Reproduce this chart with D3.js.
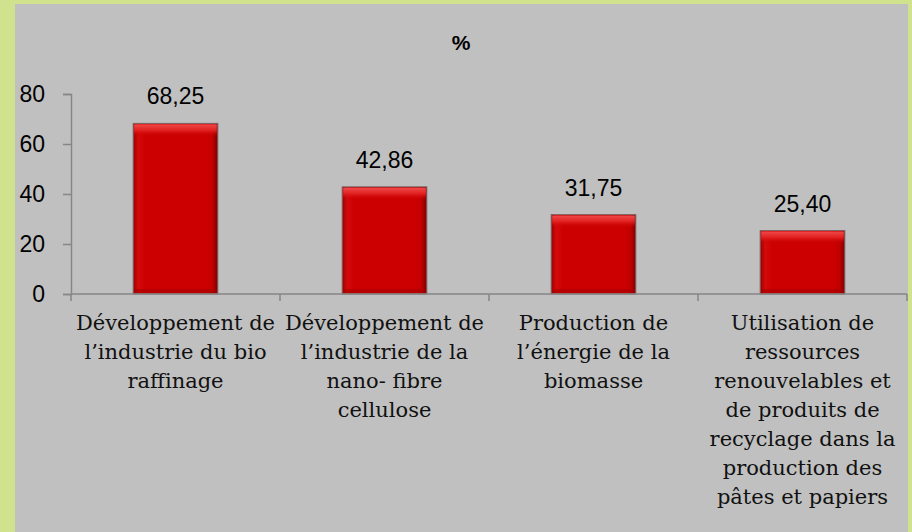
<!DOCTYPE html>
<html><head><meta charset="utf-8">
<script src="https://cdn.jsdelivr.net/npm/d3@7"></script>
<style>html,body{margin:0;padding:0;background:#d1e28f;}svg{display:block;}</style>
</head><body>
<svg id="chart" width="912" height="532"></svg>
<script>
const categories = [
  ["Développement de", "l’industrie du bio", "raffinage"],
  ["Développement de", "l’industrie de la", "nano- fibre", "cellulose"],
  ["Production de", "l’énergie de la", "biomasse"],
  ["Utilisation de", "ressources", "renouvelables et", "de produits de", "recyclage dans la", "production des", "pâtes et papiers"]
];
const values = [68.25, 42.86, 31.75, 25.40];
const valueLabels = ["68,25", "42,86", "31,75", "25,40"];
const yTicks = [0, 20, 40, 60, 80];
const title = "%";

const svg = d3.select("#chart");
svg.append("rect").attr("x", 0).attr("y", 0).attr("width", 912).attr("height", 532).attr("fill", "#d1e28f");
svg.append("rect").attr("x", 15).attr("y", 4).attr("width", 893).attr("height", 528).attr("fill", "#c0c0c0");

const defs = svg.append("defs");
const hg = defs.append("linearGradient").attr("id", "hg").attr("x1", "0").attr("x2", "1").attr("y1", "0").attr("y2", "0");
[["0%", "#9a0000"], ["6%", "#d40a0a"], ["14%", "#cc0000"], ["86%", "#cc0000"], ["94%", "#c00000"], ["100%", "#7a0000"]]
  .forEach(([o, c]) => hg.append("stop").attr("offset", o).attr("stop-color", c));
const tg = defs.append("linearGradient").attr("id", "tg").attr("x1", "0").attr("x2", "0").attr("y1", "0").attr("y2", "1");
[["0%", "#f04848", 1], ["50%", "#e02020", 1], ["100%", "#cc0000", 0]]
  .forEach(([o, c, a]) => tg.append("stop").attr("offset", o).attr("stop-color", c).attr("stop-opacity", a));

const x = d3.scaleBand().domain(d3.range(values.length)).range([71, 907]).paddingInner(0.595).paddingOuter(0.2975);
const xb = d3.scaleBand().domain(d3.range(values.length)).range([71, 907]);
const y = d3.scaleLinear().domain([0, 80]).range([294, 94]);

// bars
const g = svg.append("g");
values.forEach((v, i) => {
  const bx = x(i), bw = x.bandwidth(), by = y(v), bh = y(0) - y(v);
  g.append("rect").attr("x", bx).attr("y", by).attr("width", bw).attr("height", bh)
    .attr("fill", "url(#hg)").attr("stroke", "#7d6565").attr("stroke-width", 1);
  g.append("rect").attr("x", bx + 1).attr("y", by + 1).attr("width", bw - 2).attr("height", Math.min(12, bh - 2))
    .attr("fill", "url(#tg)");
  g.append("rect").attr("x", bx + 1).attr("y", y(0) - 5).attr("width", bw - 2).attr("height", 4)
    .attr("fill", "#a80000").attr("opacity", 0.6);
});

// axes
const yAxis = d3.axisLeft(y).tickValues(yTicks).tickSize(8).tickFormat(d3.format("d"));
const ya = svg.append("g").attr("transform", "translate(71,0)").call(yAxis);
ya.select(".domain").attr("stroke", "#868686").attr("stroke-width", 1.5);
ya.selectAll(".tick line").attr("stroke", "#868686").attr("stroke-width", 1.5);
ya.selectAll(".tick text").attr("x", -26).attr("font-family", "Liberation Sans, Arial, sans-serif")
  .attr("font-size", 23).attr("fill", "#000").attr("text-anchor", "end");

svg.append("line").attr("x1", 71).attr("x2", 907).attr("y1", y(0)).attr("y2", y(0))
  .attr("stroke", "#868686").attr("stroke-width", 1.5);
const bounds = [0, 1, 2, 3].map(i => xb(i)).concat([xb(3) + xb.bandwidth()]);
bounds.forEach(bx => {
  svg.append("line").attr("x1", bx).attr("x2", bx).attr("y1", y(0)).attr("y2", y(0) + 7)
    .attr("stroke", "#868686").attr("stroke-width", 1.5);
});

// value labels
values.forEach((v, i) => {
  svg.append("text").attr("x", x(i) + x.bandwidth() / 2).attr("y", y(v) - 19)
    .attr("text-anchor", "middle").attr("font-family", "Liberation Sans, Arial, sans-serif")
    .attr("font-size", 23).attr("fill", "#000").text(valueLabels[i]);
});

// category labels
categories.forEach((lines, i) => {
  const t = svg.append("text").attr("text-anchor", "middle")
    .attr("font-family", "DejaVu Serif, serif").attr("font-size", 21).attr("fill", "#111");
  lines.forEach((l, j) => {
    t.append("tspan").attr("x", xb(i) + xb.bandwidth() / 2).attr("y", 330 + j * 29).text(l);
  });
});

// title
svg.append("text").attr("x", 461).attr("y", 50).attr("text-anchor", "middle")
  .attr("font-family", "Liberation Sans, Arial, sans-serif").attr("font-size", 21).attr("font-weight", "bold")
  .attr("fill", "#000").text(title);
</script>
</body></html>
